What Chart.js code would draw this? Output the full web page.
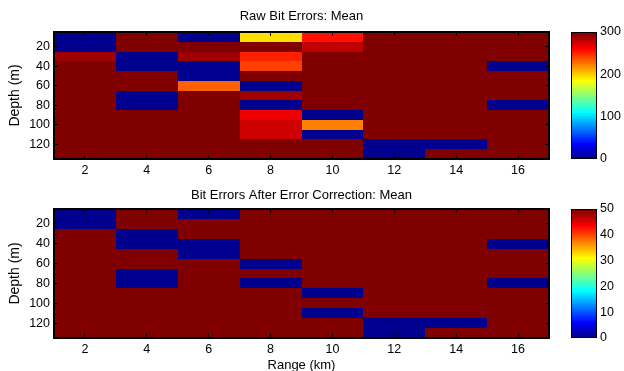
<!DOCTYPE html>
<html>
<head>
<meta charset="utf-8">
<title>Bit errors by range and depth</title>
<script src="https://cdn.jsdelivr.net/npm/chart.js@4.4.1/dist/chart.umd.min.js"></script>
<style>
  html, body { margin: 0; padding: 0; background: #fff; overflow: hidden; width: 624px; height: 371px; }
  .box { position: absolute; }
</style>
</head>
<body>
<div class="box" style="left:0;top:0"><canvas id="rawChart" width="624" height="180"></canvas></div>
<div class="box" style="left:560px;top:0"><canvas id="rawBar" width="64" height="180"></canvas></div>
<div class="box" style="left:0;top:180px"><canvas id="corrChart" width="624" height="195"></canvas></div>
<div class="box" style="left:560px;top:180px"><canvas id="corrBar" width="64" height="195"></canvas></div>
<script>
// cell centres
const rangeKm = [2, 4, 6, 8, 10, 12, 14, 16]
const depthM = [10, 20, 30, 40, 50, 60, 70, 80, 90, 100, 110, 120, 130]

// tick labels
const rangeTicks = [2, 4, 6, 8, 10, 12, 14, 16]
const depthTicks = [20, 40, 60, 80, 100, 120]
const rawTicks = [0, 100, 200, 300]
const corrTicks = [0, 10, 20, 30, 40, 50]

// one row per depth, one value per range
const rawMean = [
  [0, 300, 0, 195, 257, 300, 300, 300],
  [0, 300, 300, 300, 279, 300, 300, 300],
  [288, 0, 288, 250, 300, 300, 300, 300],
  [300, 0, 0, 241, 300, 300, 300, 0],
  [300, 300, 0, 300, 300, 300, 300, 300],
  [300, 300, 232, 0, 300, 300, 300, 300],
  [300, 0, 300, 288, 300, 300, 300, 300],
  [300, 0, 300, 0, 300, 300, 300, 0],
  [300, 300, 300, 265, 0, 300, 300, 300],
  [300, 300, 300, 274, 222, 300, 300, 300],
  [300, 300, 300, 274, 0, 300, 300, 300],
  [300, 300, 300, 300, 300, 0, 0, 300],
  [300, 300, 300, 300, 300, 0, 300, 300]
]

const correctedMean = [
  [0, 50, 0, 50, 50, 50, 50, 50],
  [0, 50, 50, 50, 50, 50, 50, 50],
  [50, 0, 50, 50, 50, 50, 50, 50],
  [50, 0, 0, 50, 50, 50, 50, 0],
  [50, 50, 0, 50, 50, 50, 50, 50],
  [50, 50, 50, 0, 50, 50, 50, 50],
  [50, 0, 50, 50, 50, 50, 50, 50],
  [50, 0, 50, 0, 50, 50, 50, 0],
  [50, 50, 50, 50, 0, 50, 50, 50],
  [50, 50, 50, 50, 50, 50, 50, 50],
  [50, 50, 50, 50, 0, 50, 50, 50],
  [50, 50, 50, 50, 50, 0, 0, 50],
  [50, 50, 50, 50, 50, 0, 50, 50]
]

Chart.defaults.font.family = "'Liberation Sans', Arial, Helvetica, sans-serif"
Chart.defaults.font.size = 12.5
Chart.defaults.color = '#000'

// matlab jet, 64 steps
function jet (t) {
  const c = (v) => Math.round(255 * Math.min(1, Math.max(0, v)))
  const r = c(Math.min(4 * t - 1.5, -4 * t + 4.5))
  const g = c(Math.min(4 * t - 0.5, -4 * t + 3.5))
  const b = c(Math.min(4 * t + 0.5, -4 * t + 2.5))
  return 'rgb(' + r + ',' + g + ',' + b + ')'
}

function jetColor (v, vmax) {
  const k = Math.min(63, Math.max(0, Math.floor(v / vmax * 64)))
  return jet((k + 1) / 64)
}

const setTicks = (values) => (scale) => { scale.ticks = values.map((v) => ({ value: v })) }
const fixSize = (key, size) => (scale) => { scale[key] = size }

const heatmapPlugin = {
  id: 'heatmap',
  beforeDatasetsDraw (chart, args, opts) {
    const { ctx, chartArea } = chart
    const x = chart.scales.x
    const y = chart.scales.y
    ctx.save()
    ctx.beginPath()
    ctx.rect(chartArea.left, chartArea.top, chartArea.width, chartArea.height)
    ctx.clip()
    chart.data.datasets[0].data.forEach((p) => {
      const x0 = Math.round(x.getPixelForValue(p.x - opts.dx / 2))
      const x1 = Math.round(x.getPixelForValue(p.x + opts.dx / 2))
      const y0 = Math.round(y.getPixelForValue(p.y - opts.dy / 2))
      const y1 = Math.round(y.getPixelForValue(p.y + opts.dy / 2))
      ctx.fillStyle = jetColor(p.v, opts.vmax)
      ctx.fillRect(Math.min(x0, x1), Math.min(y0, y1), Math.abs(x1 - x0), Math.abs(y1 - y0))
    })
    ctx.restore()
  }
}

const colorbarPlugin = {
  id: 'colorbar',
  beforeDatasetsDraw (chart, args, opts) {
    const { ctx, chartArea } = chart
    const y = chart.scales.y
    for (let k = 0; k < 64; k++) {
      const y0 = Math.round(y.getPixelForValue(k * opts.vmax / 64))
      const y1 = Math.round(y.getPixelForValue((k + 1) * opts.vmax / 64))
      ctx.fillStyle = jet((k + 1) / 64)
      ctx.fillRect(chartArea.left, y1, chartArea.width, y0 - y1)
    }
  },
  afterDraw (chart) {
    const { ctx, chartArea } = chart
    ctx.save()
    ctx.strokeStyle = '#000'
    ctx.lineWidth = 1
    ctx.strokeRect(chartArea.left + 0.5, chartArea.top + 0.5, chartArea.width - 1, chartArea.height - 1)
    ctx.restore()
  }
}

function heatmapChart (id, rows, vmax, title, size) {
  const points = []
  depthM.forEach((d, i) => {
    rangeKm.forEach((r, j) => {
      points.push({ x: r, y: d, v: rows[i][j] })
    })
  })
  const edge = { display: true, color: '#000', width: 2, z: 1 }
  const marks = { drawOnChartArea: false, drawTicks: true, tickLength: -4, color: '#000', lineWidth: 1, z: 1 }
  return new Chart(document.getElementById(id), {
    type: 'scatter',
    data: { datasets: [{ data: points, pointRadius: 0, pointHoverRadius: 0 }] },
    options: {
      responsive: false,
      animation: false,
      events: [],
      layout: { padding: { right: 75 } },
      plugins: {
        legend: { display: false },
        tooltip: { enabled: false },
        title: {
          display: true,
          text: title,
          fullSize: false,
          color: '#000',
          font: { size: 13, weight: 'normal' },
          padding: { top: size.titleTop, bottom: 0 }
        },
        heatmap: { vmax, dx: rangeKm[1] - rangeKm[0], dy: depthM[1] - depthM[0] }
      },
      scales: {
        x: {
          type: 'linear',
          position: 'bottom',
          min: 1,
          max: 17,
          afterBuildTicks: setTicks(rangeTicks),
          afterFit: fixSize('height', size.bottom),
          grid: marks,
          border: edge,
          ticks: { padding: 8, maxRotation: 0 },
          title: {
            display: size.xTitle,
            text: 'Range (km)',
            font: { size: 13 },
            padding: { top: 0, bottom: 2.2 }
          }
        },
        x2: {
          type: 'linear',
          position: 'top',
          min: 1,
          max: 17,
          afterBuildTicks: setTicks(rangeTicks),
          afterFit: fixSize('height', size.top),
          grid: marks,
          border: edge,
          ticks: { display: false }
        },
        y: {
          type: 'linear',
          position: 'left',
          reverse: true,
          min: 5,
          max: 135,
          afterBuildTicks: setTicks(depthTicks),
          afterFit: fixSize('width', 54),
          grid: marks,
          border: edge,
          ticks: { padding: 8 },
          title: {
            display: true,
            text: 'Depth (m)',
            font: { size: 14 },
            padding: { top: 6.6, bottom: 0 }
          }
        },
        y2: {
          type: 'linear',
          position: 'right',
          reverse: true,
          min: 5,
          max: 135,
          afterBuildTicks: setTicks(depthTicks),
          afterFit: fixSize('width', 0),
          grid: marks,
          border: edge,
          ticks: { display: false }
        }
      }
    },
    plugins: [heatmapPlugin]
  })
}

function colorbarChart (id, vmax, ticks, top, bottom) {
  return new Chart(document.getElementById(id), {
    type: 'scatter',
    data: { datasets: [{ data: ticks.map((v) => ({ x: 0, y: v })), pointRadius: 0, pointHoverRadius: 0 }] },
    options: {
      responsive: false,
      animation: false,
      events: [],
      layout: { padding: { left: 11, top, bottom, right: 0 } },
      plugins: {
        legend: { display: false },
        tooltip: { enabled: false },
        colorbar: { vmax }
      },
      scales: {
        x: { display: false, min: 0, max: 1 },
        y: {
          type: 'linear',
          position: 'right',
          min: 0,
          max: vmax,
          afterBuildTicks: setTicks(ticks),
          afterFit: fixSize('width', 27),
          grid: { display: false, drawTicks: false },
          border: { display: false },
          ticks: { padding: 3 }
        }
      }
    },
    plugins: [colorbarPlugin]
  })
}

heatmapChart('rawChart', rawMean, 300, 'Raw Bit Errors: Mean', { titleTop: 8.4, top: 8, bottom: 21, xTitle: false })
colorbarChart('rawBar', 300, rawTicks, 32, 21)
heatmapChart('corrChart', correctedMean, 50, 'Bit Errors After Error Correction: Mean', { titleTop: 7.2, top: 6.2, bottom: 37, xTitle: true })
colorbarChart('corrBar', 50, corrTicks, 29, 37)
</script>
</body>
</html>
